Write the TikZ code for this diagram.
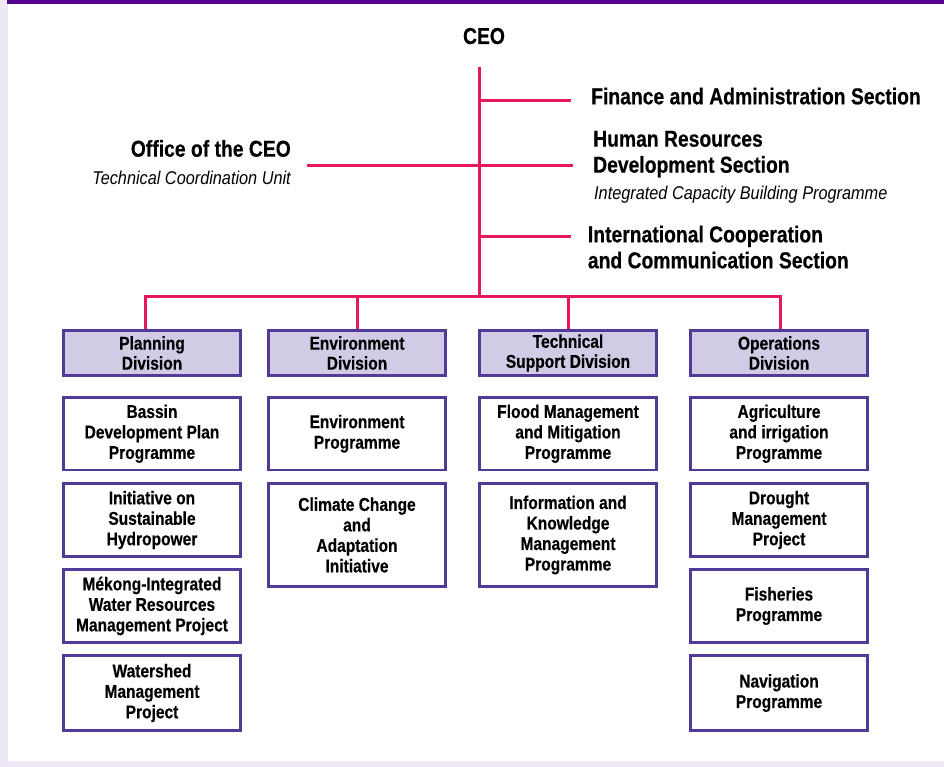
\documentclass[tikz,border=0pt]{standalone}
\usepackage{fontspec}
\setmainfont[FakeStretch=0.84,BoldFeatures={FakeBold=0.4}]{Liberation Sans}
\newfontfamily\subfam[FakeStretch=0.88]{Liberation Sans}
\definecolor{linepink}{RGB}{233,23,96}
\definecolor{boxpurple}{RGB}{82,58,152}
\definecolor{divfill}{RGB}{209,203,230}
\definecolor{topbar}{RGB}{85,0,145}
\definecolor{bglav}{RGB}{238,231,245}
\begin{document}
\begin{tikzpicture}[x=1pt,y=-1pt,
  pinkline/.style={draw=linepink,line width=3pt},
  head/.style={inner sep=0pt,font=\fontsize{23}{26}\selectfont\bfseries,align=left},
  sub/.style={inner sep=0pt,font=\subfam\fontsize{18.5}{22}\selectfont\itshape},
  boxbase/.style={draw=boxpurple,line width=2.8pt,minimum width=176.5pt,align=center,inner sep=2pt,font=\fontsize{18.5}{20.5}\selectfont\bfseries},
  divbox/.style={boxbase,fill=divfill,minimum height=45.2pt,font=\fontsize{18.5}{20}\selectfont\bfseries},
  progbox/.style={boxbase,fill=white},
]
\useasboundingbox (0,0) rectangle (944,767);
% background
\fill[bglav] (0,0) rectangle (944,767);
\fill[white] (8,4) rectangle (944,761);
\fill[topbar] (7,0) rectangle (944,4);

% top-level texts (base anchor of a multi-line node = its last line)
\node[head, anchor=base] (ceo) at (484,44) {CEO};
\node[head, anchor=base west] (fin) at (591,104.3) {Finance and Administration Section};
\node[head, anchor=base west] (hr) at (593,172.7) {Human Resources\\Development Section};
\node[sub, anchor=base west] (icbp) at (594,200) {Integrated Capacity Building Programme};
\node[head, anchor=base west] (icc) at (587.7,268.3) {International Cooperation\\and Communication Section};
\node[head, anchor=base east] (off) at (291,156.7) {Office of the CEO};
\node[sub, anchor=base east] (tcu) at (291,184.3) {Technical Coordination Unit};

% division boxes
\node[divbox] (plan) at (152,353) {Planning\\Division};
\node[divbox] (env) at (357,353) {Environment\\Division};
\node[divbox] (tech) at (568,353) {Technical\\Support Division};
\node[divbox] (ops) at (779,353) {Operations\\Division};

% programme boxes
\node[progbox, minimum height=72.7pt] (p1) at (152,433.7) {Bassin\\Development Plan\\Programme};
\node[progbox, minimum height=73.2pt] (p2) at (152,520) {Initiative on\\Sustainable\\Hydropower};
\node[progbox, minimum height=73.2pt] (p3) at (152,606) {Mékong-Integrated\\Water Resources\\Management Project};
\node[progbox, minimum height=75.2pt] (p4) at (152,693) {Watershed\\Management\\Project};

\node[progbox, minimum height=72.7pt] (e1) at (357,433.7) {Environment\\Programme};
\node[progbox, minimum height=103.2pt] (e2) at (357,535) {Climate Change\\and\\Adaptation\\Initiative};

\node[progbox, minimum height=72.7pt] (t1) at (568,433.7) {Flood Management\\and Mitigation\\Programme};
\node[progbox, minimum height=103.2pt] (t2) at (568,535) {Information and\\Knowledge\\Management\\Programme};

\node[progbox, minimum height=72.7pt] (o1) at (779,433.7) {Agriculture\\and irrigation\\Programme};
\node[progbox, minimum height=73.2pt] (o2) at (779,520) {Drought\\Management\\Project};
\node[progbox, minimum height=73.2pt] (o3) at (779,606) {Fisheries\\Programme};
\node[progbox, minimum height=75.2pt] (o4) at (779,693) {Navigation\\Programme};

% connectors
\coordinate (ttop) at (479,67);
\coordinate (tbot) at (479,296.5);
\coordinate (finend) at (571,100.3);
\coordinate (hrL) at (307,166);
\coordinate (hrR) at (573,166);
\coordinate (icend) at (571,236.7);
\coordinate (busL) at (145.5,296.5);
\coordinate (busR) at (780,296.5);
\coordinate (b2) at (357,296.5);
\coordinate (b3) at (568,296.5);

\draw[pinkline] (ttop) -- (tbot);
\draw[pinkline] (finend -| ttop) -- (finend);
\draw[pinkline] (hrL) -- (hrR);
\draw[pinkline] (icend -| ttop) -- (icend);
\draw[pinkline] (busL |- plan.north) -- (busL) -- (busR) -- (busR |- ops.north);
\draw[pinkline] (b2) -- (b2 |- env.north);
\draw[pinkline] (b3) -- (b3 |- tech.north);
\end{tikzpicture}
\end{document}
